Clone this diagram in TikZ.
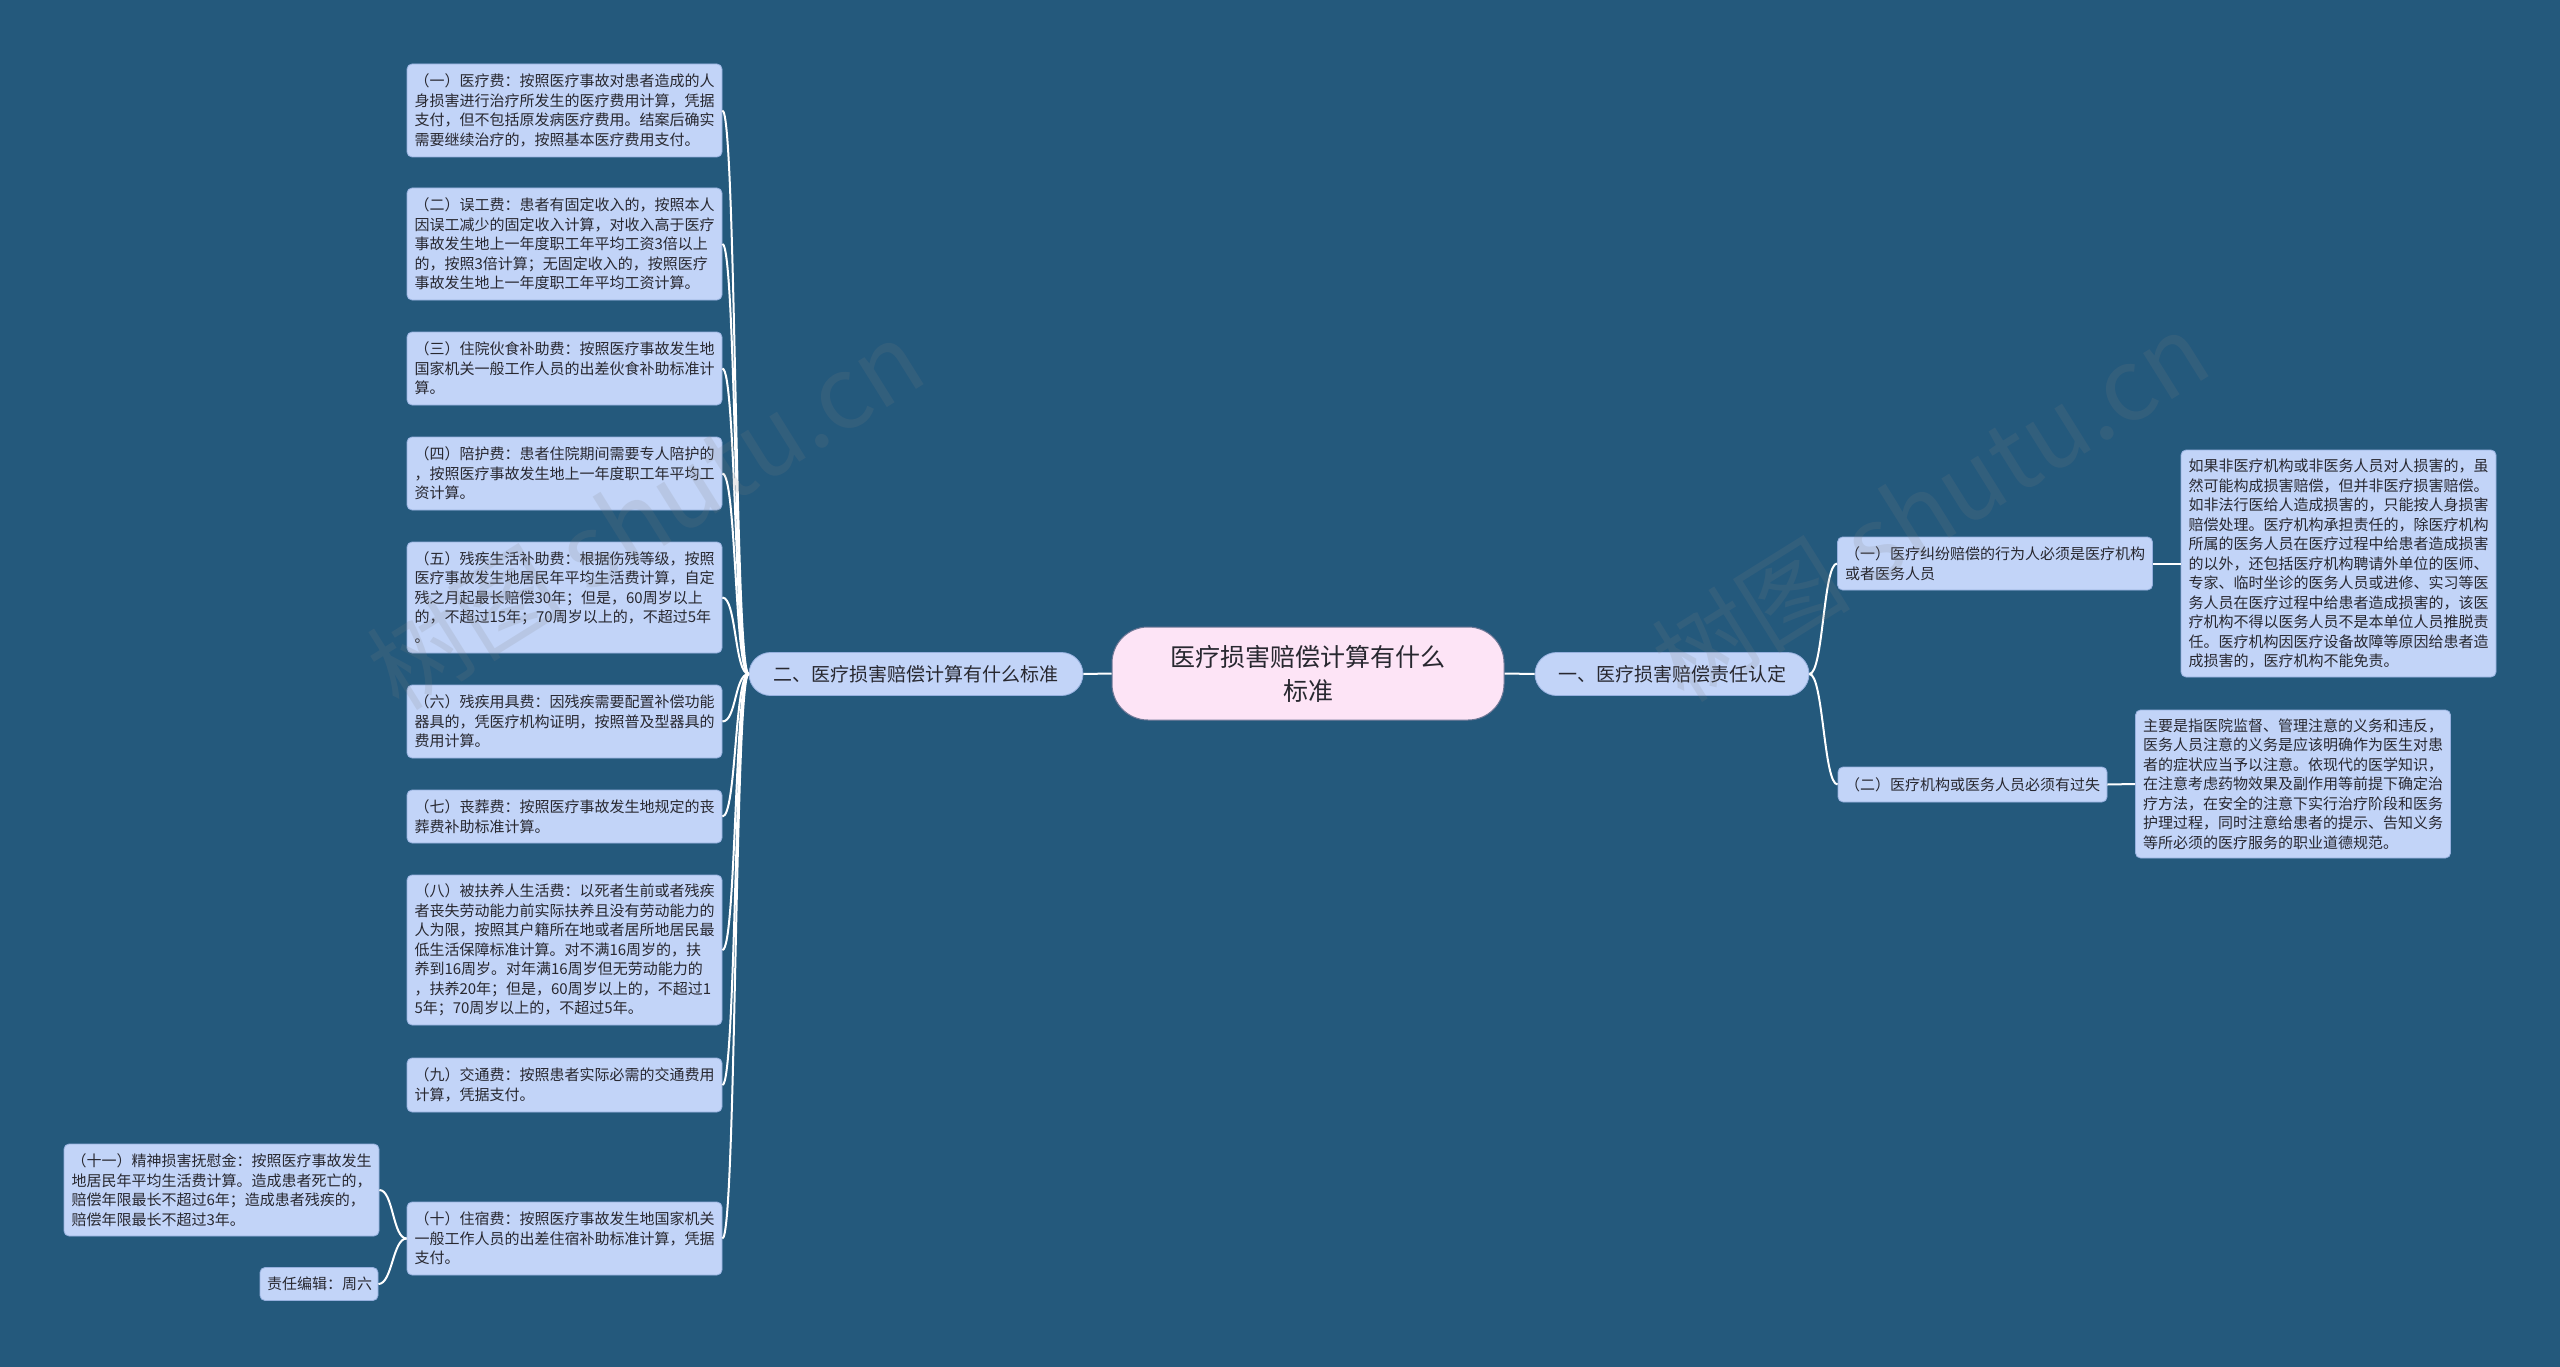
\documentclass[tikz,border=0pt]{standalone}
\usepackage{fontspec}
\setmainfont{Noto Sans CJK SC}
\definecolor{bgc}{RGB}{36,89,124}
\definecolor{leaffill}{RGB}{194,212,248}
\definecolor{leafdraw}{RGB}{150,176,222}
\definecolor{rootfill}{RGB}{253,228,246}
\definecolor{rootdraw}{RGB}{110,120,150}
\definecolor{textc}{RGB}{40,40,48}
\tikzset{
  leaf/.style={draw=leafdraw, line width=0.8pt, fill=leaffill, rounded corners=5pt,
    text=textc, font=\fontsize{15}{19.5}\selectfont, align=left,
    inner xsep=7.5pt, inner ysep=0pt, text width=300pt},
  branch/.style={draw=leafdraw, line width=0.8pt, fill=leaffill, rounded corners=21.5pt,
    text=textc, font=\fontsize{19}{24}\selectfont, minimum height=43pt, inner sep=0pt},
  rootnode/.style={draw=rootdraw, line width=1pt, fill=rootfill, rounded corners=36pt,
    text=textc, font=\fontsize{25}{34}\selectfont, align=center,
    minimum width=392pt, minimum height=93pt, inner sep=0pt},
  conn/.style={draw=white, line width=2pt},
  wmark/.style={text=gray, opacity=0.16, rotate=32, font=\fontsize{100}{100}\selectfont}
}
\begin{document}
\begin{tikzpicture}[x=1pt,y=-1pt]
\fill[bgc] (0,0) rectangle (2560,1367);
\useasboundingbox (0,0) rectangle (2560,1367);

% root and branches
\node[rootnode] (root) at (1308,673.5) {医疗损害赔偿计算有什么\\标准};
\node[branch, minimum width=334pt] (lb) at (916,674) {二、医疗损害赔偿计算有什么标准};
\node[branch, minimum width=274pt] (rb) at (1672,674) {一、医疗损害赔偿责任认定};

% left leaves
\node[leaf, minimum height=93pt] (l1) at (564.5,110.5) {（一）医疗费：按照医疗事故对患者造成的人\\身损害进行治疗所发生的医疗费用计算，凭据\\支付，但不包括原发病医疗费用。结案后确实\\需要继续治疗的，按照基本医疗费用支付。};
\node[leaf, minimum height=112pt] (l2) at (564.5,244) {（二）误工费：患者有固定收入的，按照本人\\因误工减少的固定收入计算，对收入高于医疗\\事故发生地上一年度职工年平均工资3倍以上\\的，按照3倍计算；无固定收入的，按照医疗\\事故发生地上一年度职工年平均工资计算。};
\node[leaf, minimum height=73pt] (l3) at (564.5,368.5) {（三）住院伙食补助费：按照医疗事故发生地\\国家机关一般工作人员的出差伙食补助标准计\\算。};
\node[leaf, minimum height=73pt] (l4) at (564.5,473.5) {（四）陪护费：患者住院期间需要专人陪护的\\，按照医疗事故发生地上一年度职工年平均工\\资计算。};
\node[leaf, minimum height=111pt] (l5) at (564.5,597.5) {（五）残疾生活补助费：根据伤残等级，按照\\医疗事故发生地居民年平均生活费计算，自定\\残之月起最长赔偿30年；但是，60周岁以上\\的，不超过15年；70周岁以上的，不超过5年\\。};
\node[leaf, minimum height=73pt] (l6) at (564.5,721.5) {（六）残疾用具费：因残疾需要配置补偿功能\\器具的，凭医疗机构证明，按照普及型器具的\\费用计算。};
\node[leaf, minimum height=53pt] (l7) at (564.5,816.5) {（七）丧葬费：按照医疗事故发生地规定的丧\\葬费补助标准计算。};
\node[leaf, minimum height=150pt] (l8) at (564.5,950) {（八）被扶养人生活费：以死者生前或者残疾\\者丧失劳动能力前实际扶养且没有劳动能力的\\人为限，按照其户籍所在地或者居所地居民最\\低生活保障标准计算。对不满16周岁的，扶\\养到16周岁。对年满16周岁但无劳动能力的\\，扶养20年；但是，60周岁以上的，不超过1\\5年；70周岁以上的，不超过5年。};
\node[leaf, minimum height=54pt] (l9) at (564.5,1085) {（九）交通费：按照患者实际必需的交通费用\\计算，凭据支付。};
\node[leaf, minimum height=73pt] (l10) at (564.5,1238.5) {（十）住宿费：按照医疗事故发生地国家机关\\一般工作人员的出差住宿补助标准计算，凭据\\支付。};
\node[leaf, minimum height=92pt] (l11) at (221.5,1190) {（十一）精神损害抚慰金：按照医疗事故发生\\地居民年平均生活费计算。造成患者死亡的，\\赔偿年限最长不超过6年；造成患者残疾的，\\赔偿年限最长不超过3年。};
\node[leaf, minimum height=33pt, text width=104pt, inner xsep=7pt] (ed) at (319,1284) {责任编辑：周六};

% right side
\node[leaf, minimum height=53pt] (r1) at (1995,563.5) {（一）医疗纠纷赔偿的行为人必须是医疗机构\\或者医务人员};
\node[leaf, minimum height=227pt] (r1x) at (2338.5,563.5) {如果非医疗机构或非医务人员对人损害的，虽\\然可能构成损害赔偿，但并非医疗损害赔偿。\\如非法行医给人造成损害的，只能按人身损害\\赔偿处理。医疗机构承担责任的，除医疗机构\\所属的医务人员在医疗过程中给患者造成损害\\的以外，还包括医疗机构聘请外单位的医师、\\专家、临时坐诊的医务人员或进修、实习等医\\务人员在医疗过程中给患者造成损害的，该医\\疗机构不得以医务人员不是本单位人员推脱责\\任。医疗机构因医疗设备故障等原因给患者造\\成损害的，医疗机构不能免责。};
\node[leaf, minimum height=35pt, text width=255pt, inner xsep=7pt] (r2) at (1972.5,784.5) {（二）医疗机构或医务人员必须有过失};
\node[leaf, minimum height=148pt] (r2x) at (2293,784) {主要是指医院监督、管理注意的义务和违反，\\医务人员注意的义务是应该明确作为医生对患\\者的症状应当予以注意。依现代的医学知识，\\在注意考虑药物效果及副作用等前提下确定治\\疗方法，在安全的注意下实行治疗阶段和医务\\护理过程，同时注意给患者的提示、告知义务\\等所必须的医疗服务的职业道德规范。};

% connectors
\draw[conn] (root.west) -- (lb.east);
\draw[conn] (root.east) -- (rb.west);
\foreach \c in {l1,l2,l3,l4,l5,l6,l7,l8,l9,l10}{
  \draw[conn] (lb.west) .. controls +(-14,0) and +(14,0) .. (\c.east);
}
\foreach \c in {l11,ed}{
  \draw[conn] (l10.west) .. controls +(-14,0) and +(14,0) .. (\c.east);
}
\foreach \c in {r1,r2}{
  \draw[conn] (rb.east) .. controls +(14,0) and +(-14,0) .. (\c.west);
}
\draw[conn] (r1.east) -- (r1x.west);
\draw[conn] (r2.east) -- (r2x.west);

% watermarks
\node[wmark] at (645,514) {树图 shutu.cn};
\node[wmark] at (1930,506) {树图 shutu.cn};
\end{tikzpicture}
\end{document}
